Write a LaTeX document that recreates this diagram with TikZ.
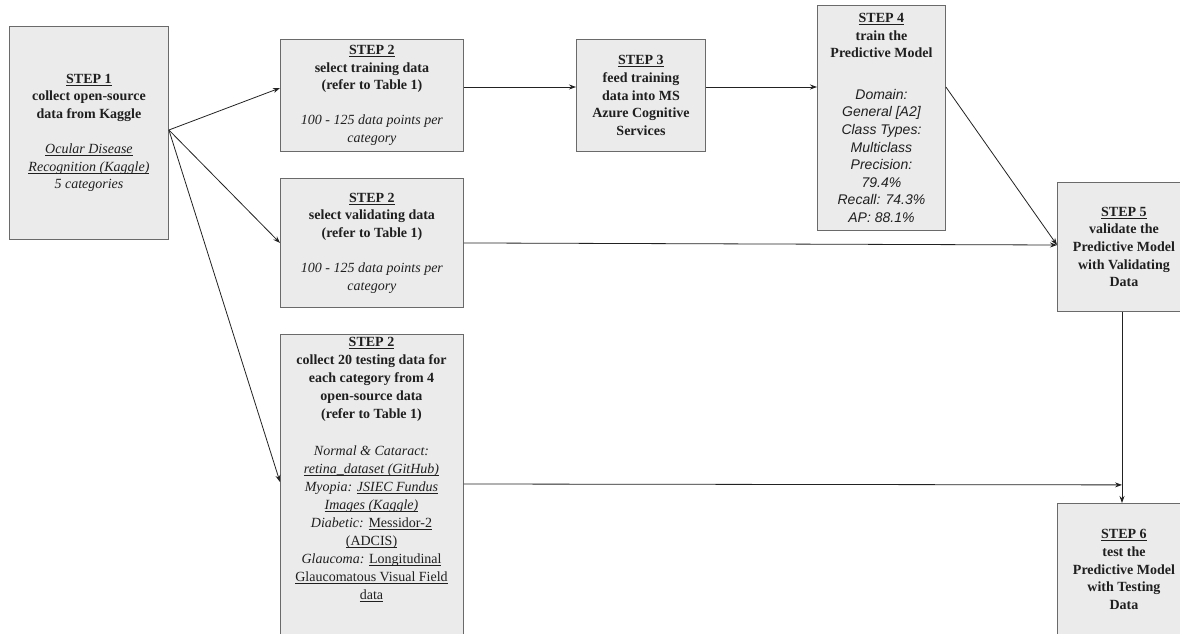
\documentclass[tikz,border=0pt]{standalone}
\usepackage{fontspec}
\setmainfont{Liberation Serif}
\newfontfamily\sansf{Liberation Sans}
\usetikzlibrary{arrows.meta,calc}
\definecolor{boxfill}{HTML}{EBEBEB}
\definecolor{boxline}{HTML}{6A6A6A}
\definecolor{txt}{HTML}{1F1F1F}
\definecolor{wire}{HTML}{222222}
\newcommand{\itx}[1]{{\mdseries\itshape #1}}
\newcommand{\ulx}[1]{\setbox0\hbox{#1}\rlap{\rule[-2.2pt]{\wd0}{0.6pt}}\box0}
\begin{document}
\begin{tikzpicture}[x=1pt,y=-1pt,
  box/.style={draw=boxline, fill=boxfill, line width=0.9pt, rectangle, inner sep=0pt,
    anchor=north west, align=center, text=txt,
    font=\fontsize{14}{17.6}\selectfont\bfseries},
  label/.style={inner sep=0pt, align=center, text=txt,
    font=\fontsize{14}{18.1}\selectfont\bfseries},
  conn/.style={draw=wire, line width=0.8pt, -{Stealth[length=7pt,width=5pt]}}]
\useasboundingbox (0,0) rectangle (1180,634);

\node[box, minimum width=159pt, minimum height=213pt] (s1) at (9,26)
 {\ulx{STEP 1}\\collect open-source\\data from Kaggle\\[17.6pt]
  \itx{\ulx{Ocular Disease}}\\\itx{\ulx{Recognition (Kaggle)}}\\\itx{5 categories}};

\node[box, minimum width=183pt, minimum height=112pt] (tr) at (280,39)
 {\ulx{STEP 2}\\select training data\\(refer to Table 1)\\[17.6pt]
  \itx{100 - 125 data points per}\\\itx{category}};

\node[box, minimum width=129pt, minimum height=112pt] (s3) at (576,39)
 {\ulx{STEP 3}\\feed training\\data into MS\\Azure Cognitive\\Services};

\node[box, minimum width=128pt, minimum height=225pt] (s4) at (817,5)
 {\ulx{STEP 4}\\train the\\Predictive Model\\[24pt]
  {\sansf\mdseries\itshape Domain:}\\{\sansf\mdseries\itshape General [A2]}\\
  {\sansf\mdseries\itshape Class Types:}\\{\sansf\mdseries\itshape Multiclass}\\
  {\sansf\mdseries\itshape Precision:}\\{\sansf\mdseries\itshape 79.4\%}\\
  {\sansf\mdseries\itshape Recall: 74.3\%}\\{\sansf\mdseries\itshape AP: 88.1\%}};

\node[box, minimum width=183pt, minimum height=129pt] (va) at (280,178)
 {\ulx{STEP 2}\\select validating data\\(refer to Table 1)\\[17.6pt]
  \itx{100 - 125 data points per}\\\itx{category}};

\node[box, minimum width=183pt, minimum height=310pt] (te) at (280,334) {};
\node[label, anchor=north] (tet) at (371.5,337)
 {\ulx{STEP 2}\\collect 20 testing data for\\each category from 4\\open-source data\\(refer to Table 1)\\[18.1pt]
  \itx{Normal \& Cataract:}\\\itx{\ulx{retina\_dataset (GitHub)}}\\
  \itx{Myopia: \ulx{JSIEC Fundus}}\\\itx{\ulx{Images (Kaggle)}}\\
  {\mdseries\itshape Diabetic: \upshape\ulx{Messidor-2}}\\{\mdseries\ulx{(ADCIS)}}\\
  {\mdseries\itshape Glaucoma: \upshape\ulx{Longitudinal}}\\{\mdseries\ulx{Glaucomatous Visual Field}}\\
  {\mdseries\ulx{data}}};

\node[box, minimum width=133pt, minimum height=129pt] (s5) at (1057,182)
 {\ulx{STEP 5}\\validate the\\Predictive Model\\with Validating\\Data};

\node[box, minimum width=133pt, minimum height=132pt] (s6) at (1057,503)
 {\ulx{STEP 6}\\test the\\Predictive Model\\with Testing\\Data};

\coordinate (s1out) at ($(s1.north east)+(0,104)$);
\coordinate (s5in) at ($(s5.north west)+(0,63)$);
\coordinate (join) at ($(s5.south west)+(65,173)$);

\draw[conn] (s1out) -- ($(tr.north west)+(0,49)$);
\draw[conn] (s1out) -- (va.west);
\draw[conn] (s1out) -- ($(te.north west)+(0,148)$);
\draw[conn] ($(tr.north east)+(0,48)$) -- ($(s3.north west)+(0,48)$);
\draw[conn] ($(s3.north east)+(0,48)$) -- ($(s4.north west)+(0,82)$);
\draw[conn] ($(s4.north east)+(0,82)$) -- (s5in);
\draw[conn] (va.east) -- (s5in);
\draw[conn] ($(s5.south west)+(65,0)$) -- ($(s6.north west)+(65,0)$);
\draw[conn] ($(te.north east)+(0,150)$) -- (join);
\end{tikzpicture}
\end{document}
